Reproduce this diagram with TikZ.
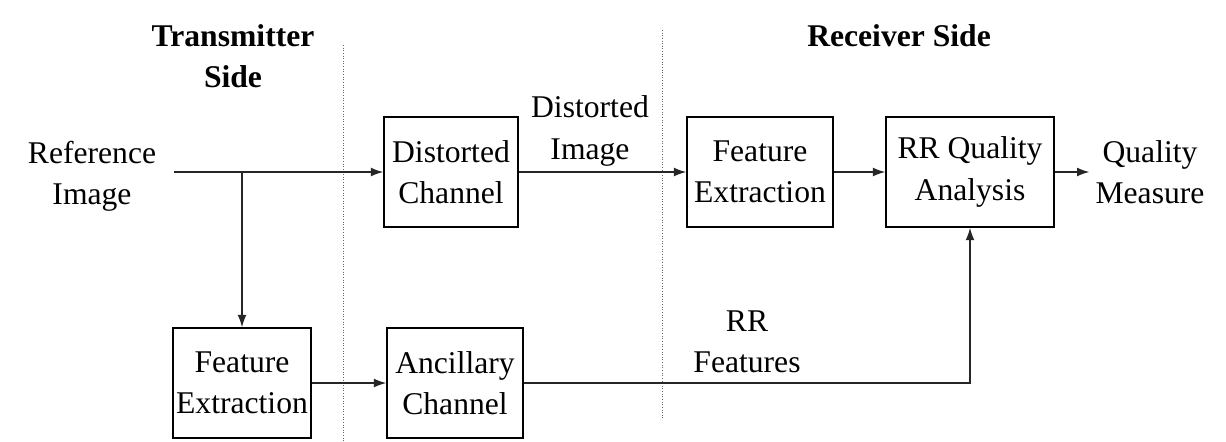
\documentclass[tikz,border=0pt]{standalone}
\usepackage{fontspec}
\setmainfont{Liberation Serif}
\usetikzlibrary{positioning,arrows.meta}

\begin{document}
\begin{tikzpicture}[x=0.02cm,y=-0.02cm,>={Latex[length=7pt,width=5pt]},every node/.style={font=\fontsize{18}{23.5}\selectfont,align=center},
  blk/.style={draw,line width=0.9pt,inner sep=1pt,minimum height=2.2cm},
  sep/.style={densely dotted,line width=0.5pt,gray!80!black},
  flow/.style={->,line width=0.7pt,black!85}]
  \useasboundingbox (0,0) rectangle (1226,441);

  % side titles and separators
  \node[font=\fontsize{18}{23}\selectfont\bfseries] (tx) at (233,56) {Transmitter\\Side};
  \node[font=\fontsize{18}{23}\selectfont\bfseries] (rx) at (899,36) {Receiver Side};
  \draw[sep] (343,45) -- (343,441);
  \draw[sep] (662,30) -- (662,420);

  % upper path
  \node[inner xsep=10pt] (ref) at (92,176) {Reference\\Image};
  \node[blk,minimum width=2.68cm] (dch) at (451,172) {Distorted\\Channel};
  \node[blk,minimum width=2.92cm] (rfe) at (760,172) {Feature\\Extraction};
  \node[blk,minimum width=3.36cm] (rrq) at (970,172) {RR Quality\\Analysis};
  \node (qm) at (1150,172) {Quality\\Measure};
  \node (dimg) at (590,131) {Distorted\\Image};

  % lower path
  \node[blk,minimum width=2.76cm] (tfe) at (242,383) {Feature\\Extraction};
  \node[blk,minimum width=2.72cm] (anc) at (455,383) {Ancillary\\Channel};
  \node (rrf) at (747,342) {RR\\Features};

  \coordinate (split) at (tfe.north |- dch.west);

  % connections
  \draw[flow] (ref.east |- dch.west) -- (dch.west);
  \draw[flow] (split) -- (tfe.north);
  \draw[flow] (dch.east) -- (rfe.west);
  \draw[flow] (rfe.east) -- (rrq.west);
  \draw[flow] (rrq.east) -- (qm.west);
  \draw[flow] (tfe.east) -- (anc.west);
  \draw[flow] (anc.east) -| (rrq.south);
\end{tikzpicture}
\end{document}
